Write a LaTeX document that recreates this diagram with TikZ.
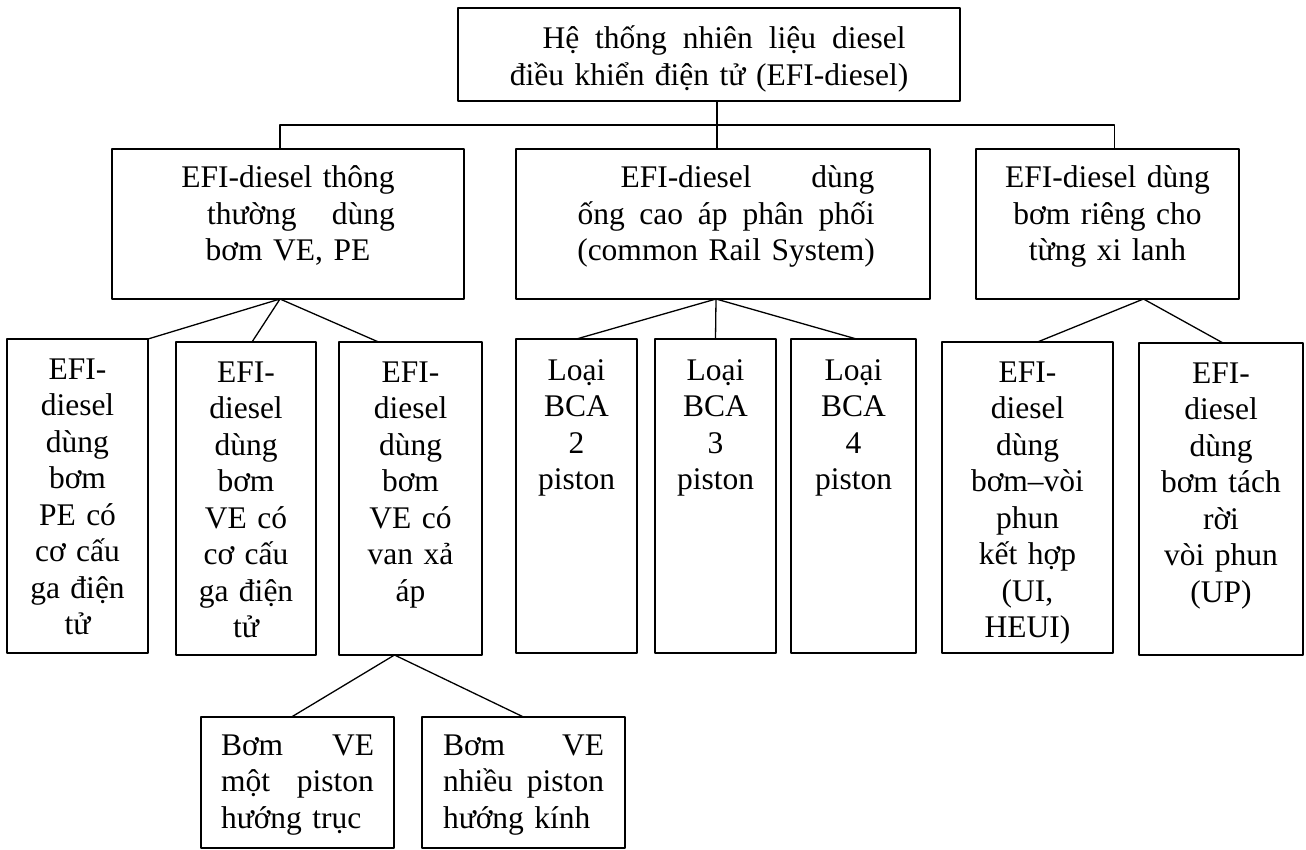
\documentclass[tikz,border=0pt]{standalone}
\usepackage{fontspec}
\setmainfont{Liberation Serif}
\tikzset{
  box/.style={draw, line width=1.3pt, inner sep=0pt, outer sep=0pt, anchor=north west},
  lbl/.style={inner sep=0pt, outer sep=0pt, align=center, anchor=base},
  link/.style={line width=1.3pt}
}
\begin{document}
\begin{tikzpicture}[x=1pt, y=-1pt, font=\fontsize{31.5}{36.5}\selectfont, line join=round, line cap=round]
  \useasboundingbox (0,0) rectangle (1306,850);
  % hop
  \node[box, minimum width=502pt, minimum height=93pt] (sys) at (458,8) {};
  \node[box, minimum width=352pt, minimum height=150pt] (thuong) at (112,149) {};
  \node[box, minimum width=414pt, minimum height=150pt] (ongcao) at (516,149) {};
  \node[box, minimum width=263pt, minimum height=150pt] (rieng) at (976,149) {};
  \node[box, minimum width=141pt, minimum height=314pt] (pe) at (7,339) {};
  \node[box, minimum width=140pt, minimum height=313pt] (ve) at (176,342) {};
  \node[box, minimum width=143pt, minimum height=313pt] (van) at (339,342) {};
  \node[box, minimum width=121pt, minimum height=314pt] (bca2) at (516,339) {};
  \node[box, minimum width=121pt, minimum height=314pt] (bca3) at (655,339) {};
  \node[box, minimum width=125pt, minimum height=314pt] (bca4) at (791,339) {};
  \node[box, minimum width=171pt, minimum height=311pt] (ui) at (942,342) {};
  \node[box, minimum width=164pt, minimum height=312pt] (up) at (1139,343) {};
  \node[box, minimum width=193pt, minimum height=131pt] (motpiston) at (201,717) {};
  \node[box, minimum width=203pt, minimum height=131pt] (nhieu) at (422,717) {};
  % chu
  \node[lbl, text width=393pt] (sys-t) at ([yshift=-41pt]sys.north)
    {\hspace*{30pt}Hệ \hfill thống \hfill nhiên \hfill liệu \hfill diesel\\ \makebox[0pt]{điều khiển điện tử (EFI-diesel)}};
  \node[lbl, text width=214pt] (thuong-t) at ([yshift=-39pt]thuong.north)
    {EFI-diesel thông\\ \hspace*{26pt}thường \hfill dùng\\ bơm VE, PE};
  \node[lbl, text width=297pt] (ongcao-t) at ([xshift=3pt, yshift=-39pt]ongcao.north)
    {\hspace*{43pt}EFI-diesel \hfill dùng\\ ống \hfill cao \hfill áp \hfill phân \hfill phối\\ \makebox[0pt]{(common Rail System)}};
  \node[lbl, text width=240pt] (rieng-t) at ([yshift=-39pt]rieng.north)
    {EFI-diesel dùng\\ bơm riêng cho\\ từng xi lanh};
  \node[lbl, text width=130pt] (pe-t) at ([yshift=-40pt]pe.north)
    {EFI-\\ diesel\\ dùng\\ bơm\\ PE có\\ cơ cấu\\ ga điện\\ tử};
  \node[lbl, text width=130pt] (ve-t) at ([yshift=-40pt]ve.north)
    {EFI-\\ diesel\\ dùng\\ bơm\\ VE có\\ cơ cấu\\ ga điện\\ tử};
  \node[lbl, text width=130pt] (van-t) at ([yshift=-40pt]van.north)
    {EFI-\\ diesel\\ dùng\\ bơm\\ VE có\\ van xả\\ áp};
  \node[lbl, text width=110pt] (bca2-t) at ([yshift=-41pt]bca2.north) {Loại\\ BCA\\ 2\\ piston};
  \node[lbl, text width=110pt] (bca3-t) at ([yshift=-41pt]bca3.north) {Loại\\ BCA\\ 3\\ piston};
  \node[lbl, text width=110pt] (bca4-t) at ([yshift=-41pt]bca4.north) {Loại\\ BCA\\ 4\\ piston};
  \node[lbl, text width=160pt] (ui-t) at ([yshift=-40pt]ui.north)
    {EFI-\\ diesel\\ dùng\\ bơm--vòi\\ phun\\ kết hợp\\ (UI,\\ HEUI)};
  \node[lbl, text width=150pt] (up-t) at ([yshift=-40pt]up.north)
    {EFI-\\ diesel\\ dùng\\ bơm tách\\ rời\\ vòi phun\\ (UP)};
  \node[lbl, align=left, text width=153pt] (motpiston-t) at ([yshift=-38pt]motpiston.north)
    {Bơm \hfill VE\\ một \hfill piston\\ hướng trục};
  \node[lbl, align=left, text width=161pt] (nhieu-t) at ([yshift=-38pt]nhieu.north)
    {Bơm \hfill VE\\ nhiều \hfill piston\\ hướng kính};
  % noi
  \coordinate (bar) at (717,125);
  \draw[link] ([xshift=8pt]sys.south) -- ([xshift=-6pt]ongcao.north);
  \draw[link] ([xshift=-8pt]thuong.north) |- (bar) -| ([xshift=7pt]rieng.north);
  \draw[link] (pe.north east) -- ([xshift=-8pt]thuong.south) -- ([xshift=6pt]ve.north);
  \draw[link] ([xshift=-8pt]thuong.south) -- ([xshift=-32pt]van.north);
  \draw[link] (bca2.north) -- ([xshift=-7pt]ongcao.south) -- ([xshift=3pt]bca4.north);
  \draw[link] ([xshift=-7pt]ongcao.south) -- (bca3.north);
  \draw[link] ([xshift=10pt]ui.north) -- ([xshift=36pt]rieng.south) -- ([xshift=2pt]up.north);
  \draw[link] ([xshift=-6pt]motpiston.north) -- ([xshift=-16pt]van.south) -- (nhieu.north);
\end{tikzpicture}
\end{document}
